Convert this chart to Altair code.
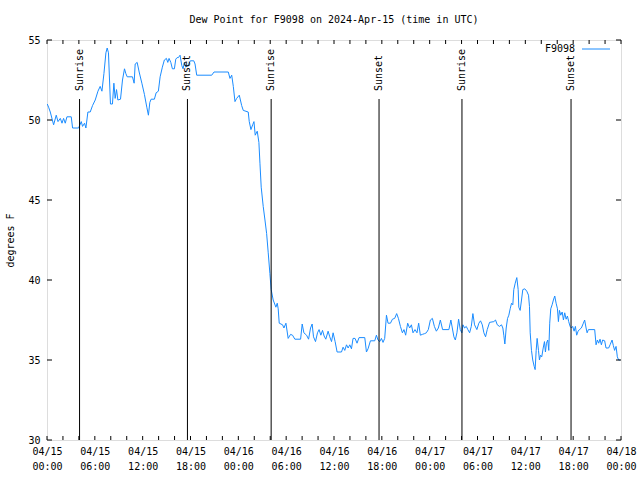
import altair as alt
import pandas as pd

station = "F9098"
title_text = "Dew Point for F9098 on 2024-Apr-15 (time in UTC)"
line_color = "#1a8cff"
FONT = "DejaVu Sans Mono"

# hours after 2024-04-15 00:00 UTC
hours = [0.03, 0.20, 0.41, 0.83, 1.16, 1.38, 1.67, 1.88, 2.08, 2.29, 2.50, 3.04, 3.21, 3.96, 4.30, 4.46, 4.71, 4.88,
         5.13, 5.42, 5.71, 6.05, 6.39, 6.67, 6.89, 7.14, 7.39, 7.55, 7.71, 7.96, 8.21, 8.39, 8.55, 8.72, 8.89, 9.22,
         9.47, 9.72, 9.89, 10.06, 10.72, 10.93, 11.06, 11.31, 11.56, 11.90, 12.22, 12.52, 12.72, 12.90, 13.06, 13.47,
         13.69, 13.97, 14.19, 14.47, 14.72, 14.98, 15.15, 15.31, 15.53, 15.73, 15.98, 16.15, 16.32, 16.48, 16.69,
         16.91, 17.07, 17.23, 17.41, 17.73, 17.98, 18.41, 18.57, 18.78, 20.66, 20.95, 22.74, 22.95, 23.17, 23.37,
         23.58, 23.79, 24.12, 24.42, 24.62, 25.24, 25.37, 25.58, 25.80, 25.96, 26.12, 26.37, 26.58, 26.71, 26.87,
         27.12, 27.34, 27.55, 27.75, 27.96, 28.12, 28.37, 28.71, 28.88, 29.00, 29.13, 29.55, 29.72, 29.97, 30.25,
         30.55, 30.80, 31.09, 31.81, 32.01, 32.22, 32.56, 32.81, 33.06, 33.26, 33.43, 33.68, 33.93, 34.13, 34.35,
         34.56, 34.76, 34.97, 35.26, 35.47, 35.69, 35.89, 36.14, 36.39, 36.94, 37.14, 37.35, 37.57, 37.77, 37.98,
         38.19, 38.39, 38.64, 38.89, 39.14, 39.86, 40.07, 40.27, 40.57, 41.11, 41.32, 41.52, 41.74, 41.95, 42.15,
         42.36, 42.58, 42.78, 43.08, 43.33, 43.61, 43.86, 44.08, 44.33, 44.58, 44.78, 44.99, 45.24, 45.49, 45.71,
         45.91, 46.16, 46.41, 46.62, 46.83, 47.08, 47.37, 47.58, 47.83, 48.09, 48.34, 48.59, 48.84, 49.09, 49.34,
         49.62, 50.41, 50.66, 50.84, 51.04, 51.22, 51.42, 51.63, 51.84, 52.04, 52.17, 52.38, 52.59, 52.79, 53.01,
         53.22, 53.42, 53.63, 53.92, 54.17, 54.38, 54.60, 54.80, 55.01, 55.22, 55.51, 56.05, 56.26, 56.48, 56.76,
         57.01, 57.18, 57.30, 57.43, 57.60, 57.77, 57.93, 58.10, 58.27, 58.43, 58.55, 58.73, 58.93, 59.10, 59.18,
         59.35, 59.52, 59.68, 59.93, 60.18, 60.40, 60.52, 60.61, 60.77, 60.93, 61.11, 61.23, 61.36, 61.48, 61.65,
         61.77, 61.90, 62.06, 62.24, 62.40, 62.52, 62.65, 62.81, 62.94, 63.06, 63.19, 63.36, 63.52, 63.69, 63.86,
         64.03, 64.15, 64.28, 64.44, 64.62, 64.78, 64.94, 65.12, 65.28, 65.44, 65.62, 65.78, 65.94, 66.12, 66.28,
         66.44, 66.62, 66.78, 67.03, 67.28, 67.44, 67.62, 67.75, 67.91, 68.70, 68.87, 69.04, 69.20, 69.37, 69.54,
         69.70, 69.95, 70.12, 70.45, 70.63, 70.88, 71.04, 71.20, 71.38, 71.54, 71.70, 71.90]

dewpt = [51.0, 50.8, 50.5, 49.7, 50.3, 49.9, 50.1, 49.8, 50.1, 49.8, 50.2, 50.2, 49.5, 49.5, 49.9, 49.6, 49.8, 49.5,
         50.5, 50.5, 50.9, 51.25, 51.8, 52.1, 51.8, 52.9, 54.2, 54.5, 54.2, 51.0, 51.0, 52.3, 51.35, 51.9, 51.25, 51.3,
         52.5, 53.2, 52.9, 52.7, 52.7, 52.3, 53.5, 53.6, 53.0, 52.3, 51.6, 50.8, 50.3, 51.1, 51.3, 51.3,
         51.7, 51.8, 52.7, 53.3, 53.75, 53.85, 53.6, 53.85, 53.6, 53.2, 53.2, 53.8, 53.9, 53.9, 54.05,
         53.4, 53.2, 53.6, 53.3, 53.45, 53.7, 53.7, 53.5, 52.8, 52.8, 53.0, 53.0, 52.6, 52.8, 52.1,
         51.15, 51.35, 51.55, 50.9, 50.6, 50.5, 49.9, 49.4, 49.7, 49.9, 49.05, 49.3, 48.6, 47.3, 45.8,
         44.6, 43.75, 42.9, 41.7, 40.4, 39.4, 38.75, 38.3, 38.55, 38.2, 37.3, 37.2, 37.0, 37.3, 36.35,
         36.6, 36.55, 36.3, 36.3, 37.25, 36.7, 36.55, 36.3, 37.0, 37.25, 36.45, 36.15, 36.7, 36.9, 36.55,
         36.85, 36.5, 36.3, 36.8, 36.45, 36.15, 36.7, 36.15, 35.5, 35.5, 35.8, 35.6, 35.95, 35.75, 35.95,
         35.7, 36.35, 36.35, 36.05, 36.4, 36.4, 35.5, 35.7, 36.2, 36.2, 36.55, 36.25, 36.15, 36.35, 36.1,
         36.35, 37.8, 37.3, 37.3, 37.55, 37.6, 37.9, 37.6, 37.1, 36.7, 36.9, 36.55, 37.3, 37.0, 37.2,
         36.7, 36.9, 36.7, 37.3, 36.55, 36.6, 36.65, 36.7, 36.9, 37.5, 37.6, 37.1, 36.8, 37.0, 37.5,
         36.9, 36.9, 37.5, 37.0, 36.45, 36.25, 36.7, 37.55, 36.9, 36.7, 37.2, 37.0, 37.1, 36.9, 36.7,
         37.1, 37.9, 37.2, 36.9, 37.3, 37.45, 37.2, 36.7, 36.45, 36.9, 37.35, 37.4, 37.5, 37.2, 37.1,
         37.2, 37.0, 36.55, 36.0, 37.0, 37.6, 37.8, 38.2, 38.55, 38.45, 39.4, 39.8, 40.15, 39.4, 38.3,
         38.1, 38.75, 39.4, 39.45, 39.3, 39.05, 38.35, 36.7, 35.6, 35.0, 34.6, 34.4, 35.6, 36.35, 35.6,
         35.0, 35.3, 35.2, 35.75, 36.15, 35.5, 36.05, 36.25, 35.6, 37.3, 38.2, 38.45, 38.75, 39.0, 38.55,
         38.2, 37.4, 38.1, 37.8, 38.0, 37.5, 37.95, 37.55, 37.75, 37.4, 37.1, 37.0, 37.1, 36.8, 37.1,
         36.55, 36.8, 36.9, 37.0, 37.3, 37.5, 37.0, 36.7, 36.9, 36.9, 35.95, 36.25, 36.05, 36.3, 35.95,
         36.25, 36.2, 35.75, 35.75, 35.95, 36.25, 35.9, 35.6, 35.85, 35.2, 35.0, 35.0]

event_times = ["2024-04-15T04:05:00Z", "2024-04-15T17:37:00Z", "2024-04-16T04:07:00Z",
               "2024-04-16T17:39:00Z", "2024-04-17T04:03:00Z", "2024-04-17T17:44:00Z"]
event_labels = ["Sunrise", "Sunset", "Sunrise", "Sunset", "Sunrise", "Sunset"]

y_tick_values = [30, 35, 40, 45, 50, 55]
x_minor_hours = list(range(0, 73, 2))
x_major_hours = list(range(0, 73, 6))

start = pd.Timestamp("2024-04-15T00:00:00Z")


def to_iso(h):
    return (start + pd.to_timedelta(h, unit="h")).strftime("%Y-%m-%dT%H:%M:%SZ")


df = pd.DataFrame({"t": [to_iso(h) for h in hours], "v": dewpt})
ev = pd.DataFrame({"t": event_times, "label": event_labels})
yt = pd.DataFrame({"v": y_tick_values})
xt = pd.DataFrame({"t": [to_iso(h) for h in x_minor_hours]})
leg = pd.DataFrame({"name": [station]})

x_domain = [alt.DateTime(year=2024, month=4, date=15, utc=True),
            alt.DateTime(year=2024, month=4, date=18, utc=True)]
x_values = [alt.DateTime(year=2024, month=4, date=15 + h // 24, hours=h % 24, utc=True) for h in x_major_hours]

xscale = alt.Scale(type="utc", domain=x_domain, nice=False)
yscale = alt.Scale(domain=[30, 55], nice=False, zero=False)

xaxis = alt.Axis(values=x_values, ticks=False, domain=False, grid=False, title=None,
                 labelExpr="[utcFormat(datum.value, '%m/%d'), utcFormat(datum.value, '%H:%M')]",
                 labelFont=FONT, labelFontSize=10, labelColor="black", labelPadding=6,
                 labelLineHeight=15, labelOverlap=False, labelFlush=False, labelAngle=0)
yaxis = alt.Axis(values=y_tick_values, ticks=False, domain=False, grid=False, title="degrees F",
                 labelFont=FONT, labelFontSize=10, labelColor="black", labelPadding=7,
                 titleFont=FONT, titleFontSize=10, titleFontWeight="normal", titleColor="black",
                 titleX=-37, titleY=200, titleAngle=270, titleAlign="center", titleBaseline="middle")

line = alt.Chart(df).mark_line(color=line_color, strokeWidth=1, clip=True).encode(
    x=alt.X("t:T", scale=xscale, axis=xaxis),
    y=alt.Y("v:Q", scale=yscale, axis=yaxis),
)

ev_rules = alt.Chart(ev).mark_rule(color="black", strokeWidth=1).encode(
    x=alt.X("t:T", scale=xscale), y=alt.value(59), y2=alt.value(400))
ev_text = alt.Chart(ev).mark_text(angle=270, align="left", baseline="middle", font=FONT,
                                  fontSize=10, color="black", dx=1).encode(
    x=alt.X("t:T", scale=xscale), y=alt.value(52), text="label:N")

ytl = alt.Chart(yt).mark_rule(color="black").encode(
    y=alt.Y("v:Q", scale=yscale), x=alt.value(0), x2=alt.value(5))
ytr = alt.Chart(yt).mark_rule(color="black").encode(
    y=alt.Y("v:Q", scale=yscale), x=alt.value(569), x2=alt.value(574))
xtb = alt.Chart(xt).mark_rule(color="black").encode(
    x=alt.X("t:T", scale=xscale), y=alt.value(396), y2=alt.value(400))
xtt = alt.Chart(xt).mark_rule(color="black").encode(
    x=alt.X("t:T", scale=xscale), y=alt.value(0), y2=alt.value(4))

leg_text = alt.Chart(leg).mark_text(align="right", baseline="middle", font=FONT, fontSize=10,
                                    color="black").encode(
    x=alt.value(528), y=alt.value(9), text="name:N")
leg_line = alt.Chart(leg).mark_rule(color=line_color, strokeWidth=1).encode(
    x=alt.value(535), x2=alt.value(563), y=alt.value(9))

chart = alt.layer(line, ev_rules, ev_text, ytl, ytr, xtb, xtt, leg_text, leg_line).properties(
    width=574, height=400,
    autosize=alt.AutoSizeParams(type="none"),
    padding={"left": 47, "top": 40, "right": 19, "bottom": 40},
    title=alt.TitleParams(title_text, font=FONT, fontSize=10, fontWeight="normal", color="black",
                          anchor="middle", offset=10),
).configure_view(stroke="black", strokeWidth=1).configure(background="white")

chart.save("out.html", embed_options={"renderer": "svg", "actions": False})
